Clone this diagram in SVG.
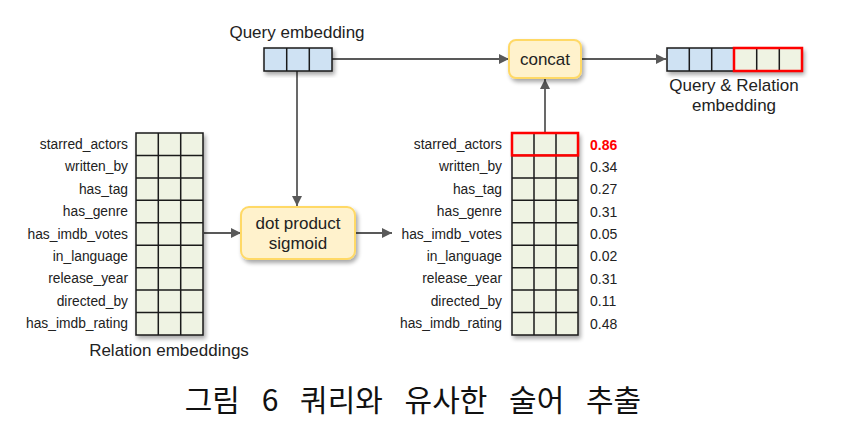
<svg xmlns="http://www.w3.org/2000/svg" width="852" height="434" viewBox="0 0 852 434">
<defs>
<marker id="arr" viewBox="0 0 10 10" refX="10" refY="5" markerWidth="10" markerHeight="10" markerUnits="userSpaceOnUse" orient="auto">
<path d="M0,0 L10,5 L0,10 z" fill="#595959"/>
</marker>
<filter id="sh" x="-20%" y="-20%" width="150%" height="150%">
<feGaussianBlur in="SourceAlpha" stdDeviation="2"/>
<feOffset dx="2" dy="3" result="b"/>
<feComponentTransfer><feFuncA type="linear" slope="0.35"/></feComponentTransfer>
<feMerge><feMergeNode/><feMergeNode in="SourceGraphic"/></feMerge>
</filter>
</defs>
<style>
.lbl{font-family:"Liberation Sans",Arial,sans-serif;font-size:13.8px;fill:#222;}
.big{font-family:"Liberation Sans",Arial,sans-serif;font-size:17px;fill:#222;}
.val{font-family:"Liberation Sans",Arial,sans-serif;font-size:14px;fill:#222;}
.cell{fill:#eff3e3;stroke:#1a1a1a;stroke-width:1.5;}
.qcell{fill:#cfe2f3;stroke:#1a1a1a;stroke-width:1.5;}
.grid{stroke:#1a1a1a;stroke-width:1.5;fill:none;}
.node{fill:#fff2cc;stroke:#ffd966;stroke-width:2;}
.conn{stroke:#595959;stroke-width:1.8;fill:none;}
.hl{fill:none;stroke:#ff0000;stroke-width:2.5;}
</style>
<rect width="852" height="434" fill="#ffffff"/>

<g id="connectors">
<line class="conn" x1="332" y1="59" x2="509" y2="59" marker-end="url(#arr)"/>
<line class="conn" x1="297" y1="71" x2="297" y2="206" marker-end="url(#arr)"/>
<line class="conn" x1="204" y1="233" x2="241" y2="233" marker-end="url(#arr)"/>
<line class="conn" x1="355" y1="233" x2="392" y2="233" marker-end="url(#arr)"/>
<line class="conn" x1="545" y1="133" x2="545" y2="79" marker-end="url(#arr)"/>
<line class="conn" x1="581" y1="59" x2="666" y2="59" marker-end="url(#arr)"/>
</g>

<g id="query-embedding">
<text class="big" x="297" y="38" text-anchor="middle">Query embedding</text>
<g filter="url(#sh)">
<rect class="qcell" x="264" y="48" width="68" height="23"/>
</g>
<line class="grid" x1="286.7" y1="48" x2="286.7" y2="71"/>
<line class="grid" x1="309.3" y1="48" x2="309.3" y2="71"/>
</g>

<g id="concat">
<rect class="node" x="509" y="40" width="72" height="38" rx="7" filter="url(#sh)"/>
<text class="big" x="545" y="65" text-anchor="middle">concat</text>
</g>

<g id="dot-product">
<rect class="node" x="241" y="207" width="114" height="52" rx="8" filter="url(#sh)"/>
<text class="big" x="298" y="229" text-anchor="middle">dot product</text>
<text class="big" x="298" y="249" text-anchor="middle">sigmoid</text>
</g>

<g id="relation-embeddings">
<rect class="cell" x="136" y="133" width="67" height="202" filter="url(#sh)"/>
<path class="grid" d="M158.3,133V335M180.7,133V335M136,155.4H203M136,177.9H203M136,200.3H203M136,222.8H203M136,245.2H203M136,267.7H203M136,290.1H203M136,312.6H203"/>
<g class="lbl" text-anchor="end">
<text x="128" y="148.7">starred_actors</text>
<text x="128" y="171.1">written_by</text>
<text x="128" y="193.6">has_tag</text>
<text x="128" y="216">has_genre</text>
<text x="128" y="238.5">has_imdb_votes</text>
<text x="128" y="260.9">in_language</text>
<text x="128" y="283.4">release_year</text>
<text x="128" y="305.8">directed_by</text>
<text x="128" y="328.3">has_imdb_rating</text>
</g>
<text class="big" x="169" y="356" text-anchor="middle">Relation embeddings</text>
</g>

<g id="scored-relations">
<rect class="cell" x="512" y="133" width="66" height="202" filter="url(#sh)"/>
<path class="grid" d="M534,133V335M556,133V335M512,155.4H578M512,177.9H578M512,200.3H578M512,222.8H578M512,245.2H578M512,267.7H578M512,290.1H578M512,312.6H578"/>
<rect class="hl" x="512" y="133" width="66" height="22.4"/>
<g class="lbl" text-anchor="end">
<text x="502" y="148.7">starred_actors</text>
<text x="502" y="171.1">written_by</text>
<text x="502" y="193.6">has_tag</text>
<text x="502" y="216">has_genre</text>
<text x="502" y="238.5">has_imdb_votes</text>
<text x="502" y="260.9">in_language</text>
<text x="502" y="283.4">release_year</text>
<text x="502" y="305.8">directed_by</text>
<text x="502" y="328.3">has_imdb_rating</text>
</g>
<g class="val">
<text x="590" y="150" style="fill:#ff0000;font-weight:bold">0.86</text>
<text x="590" y="171.6">0.34</text>
<text x="590" y="194.1">0.27</text>
<text x="590" y="216.5">0.31</text>
<text x="590" y="239">0.05</text>
<text x="590" y="261.4">0.02</text>
<text x="590" y="283.9">0.31</text>
<text x="590" y="306.3">0.11</text>
<text x="590" y="328.8">0.48</text>
</g>
</g>

<g id="query-relation-embedding">
<g filter="url(#sh)">
<rect class="qcell" x="667" y="48" width="67" height="23"/>
<rect class="cell" x="734" y="48" width="68" height="23"/>
</g>
<path class="grid" d="M689.3,48V71M711.7,48V71M756.7,48V71M779.3,48V71"/>
<rect class="hl" x="734" y="48" width="68" height="23"/>
<text class="big" x="734" y="91" text-anchor="middle">Query &amp; Relation</text>
<text class="big" x="734" y="111" text-anchor="middle">embedding</text>
</g>

<text x="413" y="411" text-anchor="middle" word-spacing="15" style="font-family:'Noto Sans CJK KR','Liberation Serif',serif;font-size:30px;fill:#111">그림 6 쿼리와 유사한 술어 추출</text>
</svg>
